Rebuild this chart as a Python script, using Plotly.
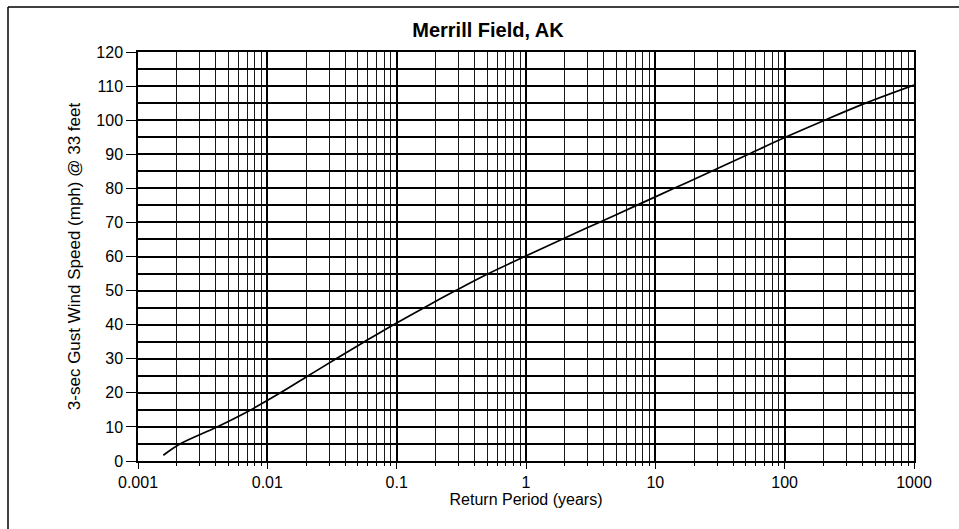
import plotly.graph_objects as go

# Data (return period where the curve crosses each speed)
return_period_years = [0.00157, 0.00211, 0.00408, 0.00743, 0.01262, 0.0207, 0.034,
                       0.0564, 0.0946, 0.163, 0.286, 0.514, 0.977, 1.884, 3.673,
                       7.16, 13.96, 27.2, 52.5, 100.0, 204, 422, 1000]
gust_speed_mph = [1.7, 5, 10, 15, 20, 25, 30, 35, 40, 45, 50, 55, 60, 65, 70,
                  75, 80, 85, 90, 94.9, 100, 105, 110.3]

x_tick_vals = [0.001, 0.01, 0.1, 1, 10, 100, 1000]
x_tick_text = ["0.001", "0.01", "0.1", "1", "10", "100", "1000"]
y_tick_vals = [0, 10, 20, 30, 40, 50, 60, 70, 80, 90, 100, 110, 120]

title_text = "Merrill Field, AK"
x_title = "Return Period (years)"
y_title = "3-sec Gust Wind Speed (mph) @ 33 feet"

FONT = "Liberation Sans, Arial, sans-serif"

fig = go.Figure()
fig.add_trace(go.Scatter(
    x=return_period_years, y=gust_speed_mph, mode="lines",
    line=dict(color="black", width=1.7, shape="spline", smoothing=1.0),
    showlegend=False, hoverinfo="x+y",
))

L, R, T, B = 138, 45, 52, 68
W, H = 959, 529
pw, ph = W - L - R, H - T - B

def px2paper_x(px):
    return (px - L) / pw

def py2paper_y(py):
    return (H - B - py) / ph

fig.update_layout(
    width=W, height=H,
    margin=dict(l=L, r=R, t=T, b=B, pad=0),
    paper_bgcolor="white", plot_bgcolor="white",
    font=dict(family=FONT, size=16, color="black"),
    title=dict(text="<b>" + title_text + "</b>", x=488 / W, xanchor="center",
               xref="container", yref="container", y=1 - 30 / H, yanchor="middle",
               font=dict(family=FONT, size=20, color="black")),
    xaxis=dict(
        type="log", range=[-3, 3],
        tickmode="array", tickvals=x_tick_vals, ticktext=x_tick_text,
        ticks="outside", ticklen=6, tickwidth=1, tickcolor="black",
        showgrid=True, gridcolor="black", gridwidth=1.8,
        minor=dict(dtick="D1", showgrid=True, gridcolor="#1a1a1a", gridwidth=1.1,
                   ticks="outside", ticklen=3, tickcolor="black"),
        showline=True, linecolor="black", linewidth=1.5, mirror=True,
        zeroline=False,
        tickfont=dict(family=FONT, size=16, color="black"),
        title=dict(text=x_title, standoff=4, font=dict(family=FONT, size=16, color="black")),
    ),
    yaxis=dict(
        range=[0, 120], tickmode="array", tickvals=y_tick_vals,
        ticks="outside", ticklen=10, tickwidth=1, tickcolor="black",
        showgrid=True, gridcolor="black", gridwidth=1.7,
        minor=dict(dtick=5, showgrid=True, gridcolor="black", gridwidth=1.5),
        showline=True, linecolor="black", linewidth=1.5, mirror=True,
        zeroline=False,
        tickfont=dict(family=FONT, size=16, color="black"),
        title=dict(text=y_title, standoff=11, font=dict(family=FONT, size=17, color="black")),
    ),
    shapes=[
        dict(type="line", xref="paper", yref="paper",
             x0=px2paper_x(8), x1=px2paper_x(8), y0=py2paper_y(7), y1=py2paper_y(H + 2),
             line=dict(color="black", width=1.5)),
        dict(type="line", xref="paper", yref="paper",
             x0=px2paper_x(8), x1=px2paper_x(W + 2), y0=py2paper_y(7), y1=py2paper_y(7),
             line=dict(color="black", width=1.5)),
    ],
)

fig.write_html("out.html")
